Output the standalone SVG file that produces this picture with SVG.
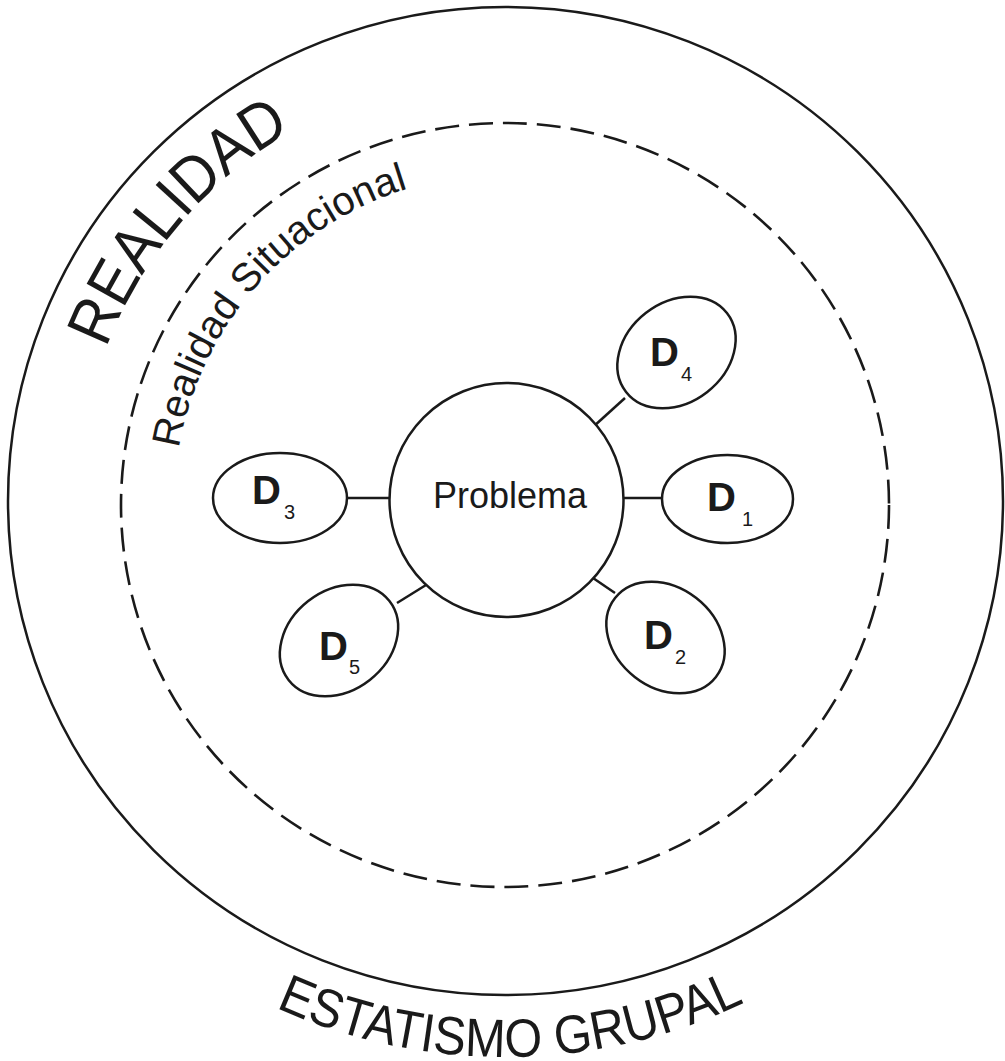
<svg xmlns="http://www.w3.org/2000/svg" width="1005" height="1061" viewBox="0 0 1005 1061">
<defs>
<style>
.ln{fill:none;stroke:#1a1a1a;stroke-width:2.5}
.nd{fill:#fff;stroke:#1a1a1a;stroke-width:2.5}
.dash{fill:none;stroke:#1a1a1a;stroke-width:2.6;stroke-dasharray:24 10}
.big{font-family:"Liberation Sans",Arial,sans-serif;fill:#1a1a1a}
.d{font-family:"Liberation Sans",Arial,sans-serif;font-weight:bold;font-size:40px;fill:#1a1a1a}
.s{font-family:"Liberation Sans",Arial,sans-serif;font-size:20px;fill:#1a1a1a}
</style>
<path id="pReal" d="M78.0,497.3 A427,427 0 0 1 434.5,79.9"/>
<path id="pSit" d="M174.1,496.9 A331,331 0 0 1 455.5,177.7"/>
<path id="pEst" d="M82.8,862.8 A556,556 0 0 0 934.6,853.9"/>
</defs>
<rect width="1005" height="1061" fill="#fff"/>
<g id="realidad">
<ellipse class="ln" cx="505.5" cy="501" rx="497.5" ry="494"/>
<text class="big" font-size="64" text-anchor="middle"><textPath href="#pReal" startOffset="50%" textLength="291" lengthAdjust="spacingAndGlyphs">REALIDAD</textPath></text>
</g>
<g id="estatismo">
<text class="big" font-size="54" text-anchor="middle"><textPath href="#pEst" startOffset="50%" textLength="484" lengthAdjust="spacingAndGlyphs">ESTATISMO GRUPAL</textPath></text>
</g>
<g id="situacional">
<ellipse class="dash" cx="505" cy="505" rx="384" ry="382"/>
<text class="big" font-size="40" text-anchor="middle"><textPath href="#pSit" startOffset="50%">Realidad Situacional</textPath></text>
</g>
<g id="connectors">
<line class="ln" x1="347" y1="498" x2="390" y2="498"/>
<line class="ln" x1="623" y1="498" x2="662" y2="498"/>
<line class="ln" x1="593" y1="427" x2="625" y2="398"/>
<line class="ln" x1="593" y1="578" x2="615" y2="593"/>
<line class="ln" x1="397" y1="603" x2="426" y2="585"/>
</g>
<g id="problema">
<circle class="nd" cx="506.5" cy="500" r="117"/>
<text class="big" font-size="36" x="510" y="508" text-anchor="middle">Problema</text>
</g>
<g id="d1">
<ellipse class="nd" cx="727.5" cy="499" rx="65.5" ry="44"/>
<text class="d" x="707" y="511">D</text><text class="s" x="742" y="526">1</text>
</g>
<g id="d2">
<ellipse class="nd" cx="665.5" cy="637.5" rx="64" ry="50" transform="rotate(38 665.5 637.5)"/>
<text class="d" x="644" y="649">D</text><text class="s" x="675" y="664">2</text>
</g>
<g id="d3">
<ellipse class="nd" cx="280" cy="498" rx="67" ry="45"/>
<text class="d" x="252" y="504">D</text><text class="s" x="284" y="519">3</text>
</g>
<g id="d4">
<ellipse class="nd" cx="676.5" cy="352.5" rx="64" ry="50" transform="rotate(-38 676.5 352.5)"/>
<text class="d" x="650" y="366">D</text><text class="s" x="681" y="381">4</text>
</g>
<g id="d5">
<ellipse class="nd" cx="339" cy="640.5" rx="64" ry="50" transform="rotate(-38 339 640.5)"/>
<text class="d" x="319" y="660">D</text><text class="s" x="349" y="674">5</text>
</g>
</svg>
